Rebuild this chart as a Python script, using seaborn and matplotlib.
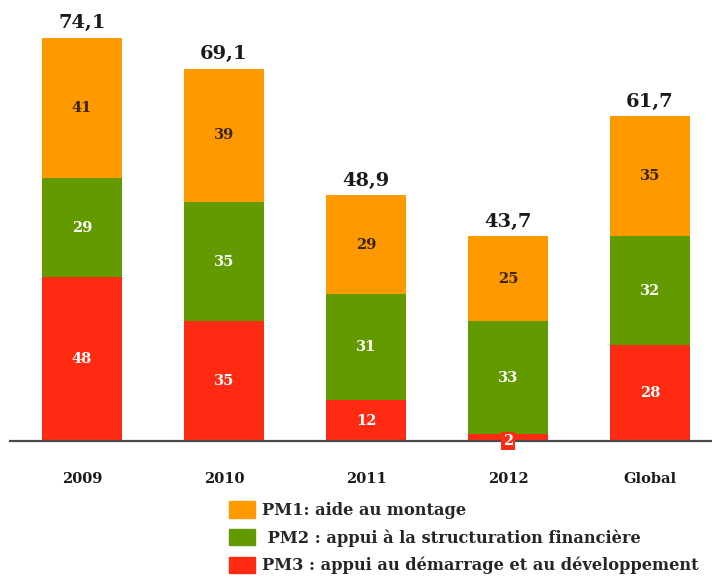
import matplotlib
matplotlib.use("Agg")
import matplotlib.pyplot as plt
import matplotlib.patches as mpatches
import seaborn as sns
import pandas as pd
import numpy as np

categories = ["2009", "2010", "2011", "2012", "Global"]
pm1 = [41, 39, 29, 25, 35]
pm2 = [29, 35, 31, 33, 32]
pm3 = [48, 35, 12, 2, 28]
totals = [74.1, 69.1, 48.9, 43.7, 61.7]
legend_labels = ["PM1: aide au montage",
                 " PM2 : appui à la structuration financière",
                 "PM3 : appui au démarrage et au développement"]

c_orange = "#FE9A00"
c_green = "#639A00"
c_red = "#FE2A12"

sns.set_theme(style="white")
plt.rcParams["font.family"] = ["DejaVu Serif"]
plt.rcParams["font.weight"] = "bold"

df = pd.DataFrame({"cat": categories, "pm1": pm1, "pm2": pm2, "pm3": pm3})
df["s3"] = df["pm3"]
df["s2"] = df["pm3"] + df["pm2"]
df["s1"] = df["s2"] + df["pm1"]

fig = plt.figure(figsize=(7.12, 5.77), dpi=100)
ax = fig.add_axes([10 / 712, (577 - 441) / 577, 702 / 712, 441 / 577])

w = 80 / 142
for col, c in [("s1", c_orange), ("s2", c_green), ("s3", c_red)]:
    sns.barplot(data=df, x="cat", y=col, color=c, width=w, ax=ax,
                saturation=1, linewidth=0, edgecolor="none")

ax.set_xlim(-72 / 142, 630 / 142)
ax.set_ylim(0, 129.1)
ax.set_xlabel("")
ax.set_ylabel("")
ax.set_yticks([])
for s in ["top", "left", "right"]:
    ax.spines[s].set_visible(False)
ax.spines["bottom"].set_color("#4a4a4a")
ax.spines["bottom"].set_linewidth(1.6)
ax.tick_params(axis="x", length=0, pad=22, labelsize=10.5)
for t in ax.get_xticklabels():
    t.set_fontweight("bold")
    t.set_color("#1a1a1a")

for i in range(len(categories)):
    ax.text(i, df["s2"][i] + pm1[i] / 2, str(pm1[i]), ha="center", va="center",
            fontsize=10.5, fontweight="bold", color="#3a2400")
    ax.text(i, df["s3"][i] + pm2[i] / 2, str(pm2[i]), ha="center", va="center",
            fontsize=10.5, fontweight="bold", color="white")
    if pm3[i] >= 5:
        ax.text(i, pm3[i] / 2, str(pm3[i]), ha="center", va="center",
                fontsize=10.5, fontweight="bold", color="white")
    else:
        ax.text(i, 0, str(pm3[i]), ha="center", va="center",
                fontsize=10.5, fontweight="bold", color="white",
                bbox=dict(boxstyle="square,pad=0.15", fc=c_red, ec="none"))
    ax.annotate(f"{totals[i]:.1f}".replace(".", ","), (i, df["s1"][i]),
                xytext=(0, 4), textcoords="offset points", ha="center", va="bottom",
                fontsize=14, fontweight="bold", color="#1a1a1a")

handles = [mpatches.Patch(color=c, label=l) for c, l in zip([c_orange, c_green, c_red], legend_labels)]
fig.legend(handles=handles, loc="upper left", bbox_to_anchor=(222 / 712, 1 - 495 / 577),
           frameon=False, handlelength=1.6, handleheight=1.15,
           handletextpad=0.45, labelspacing=0.62, borderaxespad=0,
           prop={"weight": "bold", "size": 11.7})

fig.savefig("out.png", dpi=100)
